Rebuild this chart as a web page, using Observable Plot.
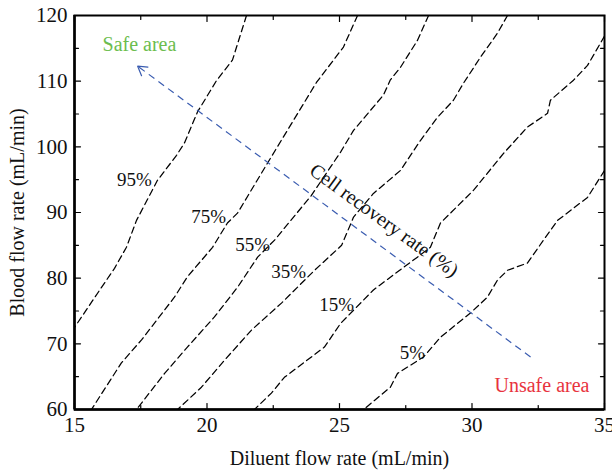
<!DOCTYPE html>
<html>
<head>
<meta charset="utf-8">
<script src="https://cdn.jsdelivr.net/npm/d3@7"></script>
<script src="https://cdn.jsdelivr.net/npm/@observablehq/plot@0.6"></script>
<style>
  html, body { margin: 0; padding: 0; background: #ffffff; }
  #chart svg { display: block; }
</style>
</head>
<body>
<div id="chart"></div>
<script>
// Iso-recovery contours: diluent flow (mL/min) vs blood flow (mL/min)
const levels = ["95%", "75%", "55%", "35%", "15%", "5%"];

const diluent95 = [21.49, 20.96, 20.36, 19.64, 19.15, 18.85, 18.13, 17.34, 16.96, 16.51, 16.02, 15.0];
const blood95   = [120, 113.2, 110.1, 105.3, 100.6, 98.7, 94.9, 88.8, 84.7, 81.5, 78.6, 72.5];

const diluent75 = [25.68, 25.15, 24.13, 22.28, 21.15, 20.77, 20.21, 19.26, 18.77, 17.53, 16.77, 15.64];
const blood75   = [120, 115.2, 109.8, 97.5, 89.9, 88.4, 84.7, 80.2, 77.1, 70.6, 67.1, 60];

const diluent55 = [28.36, 27.94, 27.3, 26.92, 26.66, 25.53, 25.04, 23.94, 22.55, 21.91, 21.15, 20.28, 19.26, 18.4, 17.34];
const blood55   = [120, 116.2, 112.1, 110.2, 107.9, 102.5, 99.2, 92.6, 85.8, 83.2, 78.6, 74.1, 69.5, 65.5, 60];

const diluent35 = [31.34, 30.96, 30.32, 29.68, 29.3, 28.7, 28.06, 27.3, 26.28, 25.53, 25.08, 24.06, 22.81, 21.68, 20.66, 19.79, 18.89];
const blood35   = [120, 117.3, 113.65, 109.7, 107.1, 104.5, 101.0, 96.4, 92.9, 89.3, 85.0, 81.2, 76.2, 72.1, 67.5, 63.4, 60];

const diluent15 = [35, 34.36, 33.83, 32.96, 32.85, 32.09, 31.19, 30.06, 28.81, 28.43, 27.94, 26.92, 26.28, 25.04, 24.43, 22.92, 22.43, 21.79];
const blood15   = [116.85, 112.4, 110.15, 107.1, 105.1, 103.0, 99.0, 93.4, 88.4, 84.7, 83.2, 80.15, 78.2, 73.1, 69.5, 64.9, 62.5, 60];

const diluent5 = [35, 34.36, 33.23, 32.7, 32.09, 31.34, 30.96, 30.58, 29.94, 28.81, 28.17, 27.19, 26.92, 25.91];
const blood5   = [96.4, 92.3, 88.8, 85.8, 82.3, 81.2, 79.7, 77.1, 74.7, 71.0, 68.0, 65.5, 63.4, 60];

// Where each contour's percentage is written
const labelDiluent = [17.26, 20.06, 21.72, 23.08, 24.89, 27.75];
const labelBlood   = [95.0, 89.4, 85.0, 81.0, 75.9, 68.6];

// Direction arrow from the unsafe corner toward the safe corner
const arrowFrom = {diluent: 32.21, blood: 68.0};
const arrowTo   = {diluent: 17.38, blood: 112.3};

// Axis ticks
const xTicks = [15, 20, 25, 30, 35];
const xMinorTicks = [17.5, 22.5, 27.5, 32.5];
const yTicks = [60, 70, 80, 90, 100, 110, 120];
const yMinorTicks = [65, 75, 85, 95, 105, 115];

const contourX = [diluent95, diluent75, diluent55, diluent35, diluent15, diluent5];
const contourY = [blood95, blood75, blood55, blood35, blood15, blood5];
const contours = levels.flatMap((level, k) =>
  contourX[k].map((x, i) => ({level, diluent: x, blood: contourY[k][i]}))
);
const labels = levels.map((level, k) => ({level, diluent: labelDiluent[k], blood: labelBlood[k]}));
const arrowData = [{x1: arrowFrom.diluent, y1: arrowFrom.blood, x2: arrowTo.diluent, y2: arrowTo.blood}];

const serif = "'Liberation Serif', 'Times New Roman', serif";
const blue = "#3a5cb0";

// Inward-pointing tick marks drawn on all four sides of the frame
const tickShape = {draw(ctx, l) { ctx.moveTo(0, 0); ctx.lineTo(0, -l); }};
function ticksOn(values, channel, anchor, rotate, length) {
  return Plot.vector(values, {
    [channel]: (d) => d,
    frameAnchor: anchor,
    rotate,
    length,
    anchor: "start",
    shape: tickShape,
    stroke: "black",
    strokeWidth: 1.2
  });
}

// Keep only the arrowhead subpath so the shaft stays dashed underneath
function headOnly(index, scales, values, dimensions, context, next) {
  const g = next(index, scales, values, dimensions, context);
  d3.select(g).selectAll("path").each(function () {
    const d = this.getAttribute("d") || "";
    const k = d.indexOf("M", 1);
    if (k > 0) this.setAttribute("d", d.slice(k));
  });
  return g;
}

const chart = Plot.plot({
  width: 612,
  height: 473,
  marginTop: 15,
  marginRight: 8,
  marginBottom: 64,
  marginLeft: 74,
  style: {fontFamily: serif, background: "#ffffff"},
  x: {domain: [15, 35]},
  y: {domain: [60, 120]},
  marks: [
    Plot.line(contours, {
      x: "diluent", y: "blood", z: "level",
      stroke: "black", strokeWidth: 1.25, strokeDasharray: "6.5,4", clip: true
    }),
    Plot.link(arrowData, {
      x1: "x1", y1: "y1", x2: "x2", y2: "y2",
      stroke: blue, strokeWidth: 1.2, strokeDasharray: "7,5"
    }),
    Plot.arrow(arrowData, {
      x1: "x1", y1: "y1", x2: "x2", y2: "y2",
      stroke: blue, strokeWidth: 1.2, headLength: 13, headAngle: 62,
      render: headOnly
    }),
    Plot.text(labels, {
      x: "diluent", y: "blood", text: "level",
      fontSize: 19, fill: "#111"
    }),
    Plot.text(["Cell recovery rate (%)"], {
      x: () => 26.68, y: () => 88.8, rotate: 36,
      fontSize: 20, fill: "#111"
    }),
    Plot.text(["Safe area"], {
      x: () => 17.45, y: () => 115.5, fontSize: 20, fill: "#6cbd4e"
    }),
    Plot.text(["Unsafe area"], {
      x: () => 32.64, y: () => 63.7, fontSize: 20, fill: "#e8333e"
    }),
    // Ticks
    ticksOn(xTicks, "x", "bottom", 0, 6),
    ticksOn(xMinorTicks, "x", "bottom", 0, 4),
    ticksOn(xTicks, "x", "top", 180, 6),
    ticksOn(xMinorTicks, "x", "top", 180, 4),
    ticksOn(yTicks, "y", "left", 90, 6),
    ticksOn(yMinorTicks, "y", "left", 90, 4),
    ticksOn(yTicks, "y", "right", -90, 6),
    ticksOn(yMinorTicks, "y", "right", -90, 4),
    // Tick labels
    Plot.axisX(xTicks, {
      tickSize: 0, tickPadding: 8, fontSize: 21, label: null,
      tickFormat: (d) => String(d), fill: "#111"
    }),
    Plot.axisY(yTicks, {
      tickSize: 0, tickPadding: 7, fontSize: 21, label: null,
      tickFormat: (d) => String(d), fill: "#111"
    }),
    // Axis titles
    Plot.text(["Diluent flow rate (mL/min)"], {
      frameAnchor: "bottom", dy: 49, lineAnchor: "middle", textAnchor: "middle",
      fontSize: 20, fill: "#111"
    }),
    Plot.text(["Blood flow rate (mL/min)"], {
      frameAnchor: "left", dx: -57, rotate: -90, lineAnchor: "middle", textAnchor: "middle",
      fontSize: 20, fill: "#111"
    }),
    // Frame
    Plot.frame({stroke: "black", strokeWidth: 2}),
    Plot.ruleX([15], {stroke: "black", strokeWidth: 2.5}),
    Plot.ruleY([60], {stroke: "black", strokeWidth: 2.5})
  ]
});

document.getElementById("chart").appendChild(chart);
</script>
</body>
</html>
